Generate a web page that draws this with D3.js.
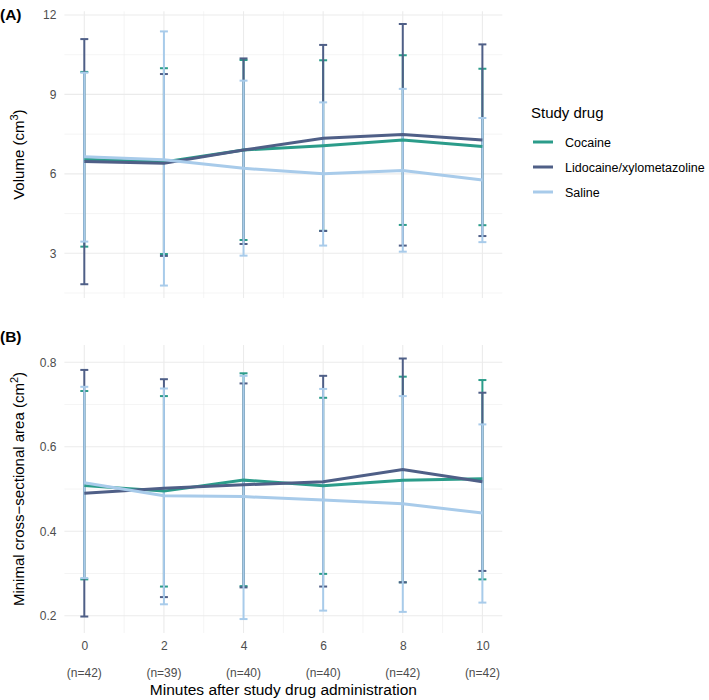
<!DOCTYPE html>
<html>
<head>
<meta charset="utf-8">
<title>Volume and MCA by study drug</title>
<script src="https://d3js.org/d3.v7.min.js"></script>
<style>
  body { margin: 0; background: #fff; font-family: "Liberation Sans", Arial, sans-serif; }
  .tick text { fill: #4d4d4d; font-size: 12px; }
  .grid line { stroke: #ebebeb; }
</style>
</head>
<body>
<div id="chart"></div>
<script>
// minutes and sample sizes
const minutes = [0, 2, 4, 6, 8, 10];
const nLabels = ["(n=42)", "(n=39)", "(n=40)", "(n=40)", "(n=42)", "(n=42)"];
const drugs = ["Cocaine", "Lidocaine/xylometazoline", "Saline"];
const colors = ["#2b9c8a", "#4f5f87", "#a8cbea"];

// (A) volume, cm3: mean, lower, upper per drug
const volMean = [
  [6.55, 6.45, 6.9, 7.06, 7.28, 7.03],
  [6.47, 6.4, 6.9, 7.34, 7.49, 7.28],
  [6.65, 6.53, 6.21, 6.0, 6.13, 5.77]
];
const volLow = [
  [3.25, 2.97, 3.5, 3.85, 4.07, 4.06],
  [1.83, 2.9, 3.35, 3.84, 3.29, 3.65],
  [3.44, 1.78, 2.91, 3.29, 3.06, 3.42]
];
const volHigh = [
  [9.85, 9.99, 10.3, 10.29, 10.48, 9.97],
  [11.09, 9.77, 10.36, 10.87, 11.66, 10.89],
  [9.82, 11.38, 9.52, 8.7, 9.21, 8.11]
];

// (B) minimal cross-sectional area, cm2
const mcaMean = [
  [0.508, 0.495, 0.521, 0.508, 0.521, 0.524],
  [0.49, 0.502, 0.51, 0.517, 0.546, 0.517],
  [0.515, 0.484, 0.482, 0.474, 0.465, 0.443]
];
const mcaLow = [
  [0.286, 0.269, 0.27, 0.299, 0.279, 0.286],
  [0.198, 0.244, 0.267, 0.269, 0.279, 0.306],
  [0.289, 0.227, 0.192, 0.212, 0.209, 0.231]
];
const mcaHigh = [
  [0.732, 0.72, 0.774, 0.716, 0.766, 0.758],
  [0.782, 0.76, 0.75, 0.768, 0.809, 0.728],
  [0.742, 0.738, 0.768, 0.737, 0.72, 0.653]
];

const width = 709, height = 700;
const svg = d3.select("#chart").append("svg")
  .attr("width", width).attr("height", height);

const x = d3.scaleLinear().domain([-0.5, 10.5]).range([64.4, 502.3]);

function panel(opts) {
  const y = d3.scaleLinear().domain(opts.domain).range([opts.bottom, opts.top]);
  const g = svg.append("g");

  // grid
  const grid = g.append("g").attr("class", "grid");
  grid.selectAll(".minx").data(d3.range(-1, 12, 1))
    .enter().append("line")
    .filter(d => d >= -0.5 && d <= 10.5)
    .attr("x1", d => x(d)).attr("x2", d => x(d))
    .attr("y1", opts.top).attr("y2", opts.bottom)
    .attr("stroke-width", d => d % 2 === 0 ? 1.1 : 0.55);
  grid.selectAll(".ygrid").data(opts.grid)
    .enter().append("line")
    .attr("x1", x(-0.5)).attr("x2", x(10.5))
    .attr("y1", d => y(d)).attr("y2", d => y(d))
    .attr("stroke-width", (d, i) => opts.ticks.includes(d) ? 1.1 : 0.55);

  // y axis labels
  const yAxis = g.append("g").attr("transform", `translate(${x(-0.5)},0)`)
    .call(d3.axisLeft(y).tickValues(opts.ticks).tickFormat(opts.fmt).tickSize(0).tickPadding(8));
  yAxis.select(".domain").remove();

  // error bars
  drugs.forEach((drug, k) => {
    const eb = g.append("g").attr("stroke", colors[k]).attr("stroke-width", 2);
    minutes.forEach((m, i) => {
      eb.append("line")
        .attr("x1", x(m)).attr("x2", x(m))
        .attr("y1", y(opts.low[k][i])).attr("y2", y(opts.high[k][i]));
      [opts.low[k][i], opts.high[k][i]].forEach(v => {
        eb.append("line")
          .attr("x1", x(m - 0.1)).attr("x2", x(m + 0.1))
          .attr("y1", y(v)).attr("y2", y(v));
      });
    });
  });

  // mean lines
  const line = d3.line().x((d, i) => x(minutes[i])).y(d => y(d));
  drugs.forEach((drug, k) => {
    g.append("path")
      .attr("d", line(opts.mean[k]))
      .attr("fill", "none")
      .attr("stroke", colors[k])
      .attr("stroke-width", 3);
  });

  // y title
  const yt = g.append("text")
    .attr("transform", `translate(${opts.titleX},${(opts.top + opts.bottom) / 2}) rotate(-90)`)
    .attr("text-anchor", "middle")
    .attr("font-size", 15)
    .attr("fill", "#000");
  yt.append("tspan").text(opts.title);
  yt.append("tspan").attr("dy", -6).attr("font-size", 11).text(opts.sup);
  yt.append("tspan").attr("dy", 6).text(")");

  // panel tag
  svg.append("text").attr("x", 0).attr("y", opts.tagY)
    .attr("font-size", 15.5).attr("font-weight", "bold").text(opts.tag);
  return y;
}

panel({
  domain: [1.31, 12.14], top: 11.3, bottom: 298,
  ticks: [3, 6, 9, 12], grid: [1.5, 3, 4.5, 6, 7.5, 9, 10.5, 12],
  fmt: d3.format("d"),
  mean: volMean, low: volLow, high: volHigh,
  title: "Volume (cm", sup: "3", titleX: 24, tag: "(A)", tagY: 20
});

panel({
  domain: [0.159, 0.841], top: 345, bottom: 633,
  ticks: [0.2, 0.4, 0.6, 0.8], grid: [0.2, 0.3, 0.4, 0.5, 0.6, 0.7, 0.8],
  fmt: d3.format(".1f"),
  mean: mcaMean, low: mcaLow, high: mcaHigh,
  title: "Minimal cross\u2212sectional area (cm", sup: "2", titleX: 24, tag: "(B)", tagY: 342
});

// x axis labels
const xAxis = svg.append("g").attr("transform", `translate(0,633)`)
  .call(d3.axisBottom(x).tickValues(minutes).tickSize(0).tickPadding(8));
xAxis.select(".domain").remove();

svg.append("g").selectAll("text").data(nLabels)
  .enter().append("text")
  .attr("x", (d, i) => x(minutes[i]))
  .attr("y", 677)
  .attr("text-anchor", "middle")
  .attr("font-size", 12)
  .attr("fill", "#4d4d4d")
  .text(d => d);

svg.append("text")
  .attr("x", x(5)).attr("y", 695)
  .attr("text-anchor", "middle")
  .attr("font-size", 15.5)
  .text("Minutes after study drug administration");

// legend
const legend = svg.append("g").attr("transform", "translate(531,0)");
legend.append("text").attr("x", 0).attr("y", 118).attr("font-size", 15).text("Study drug");
drugs.forEach((drug, k) => {
  const row = legend.append("g").attr("transform", `translate(0,${142 + k * 25})`);
  row.append("line").attr("x1", 2).attr("x2", 22).attr("y1", 0).attr("y2", 0)
    .attr("stroke", colors[k]).attr("stroke-width", 3);
  row.append("text").attr("x", 34).attr("y", 5).attr("font-size", 12.5).text(drug);
});
</script>
</body>
</html>
